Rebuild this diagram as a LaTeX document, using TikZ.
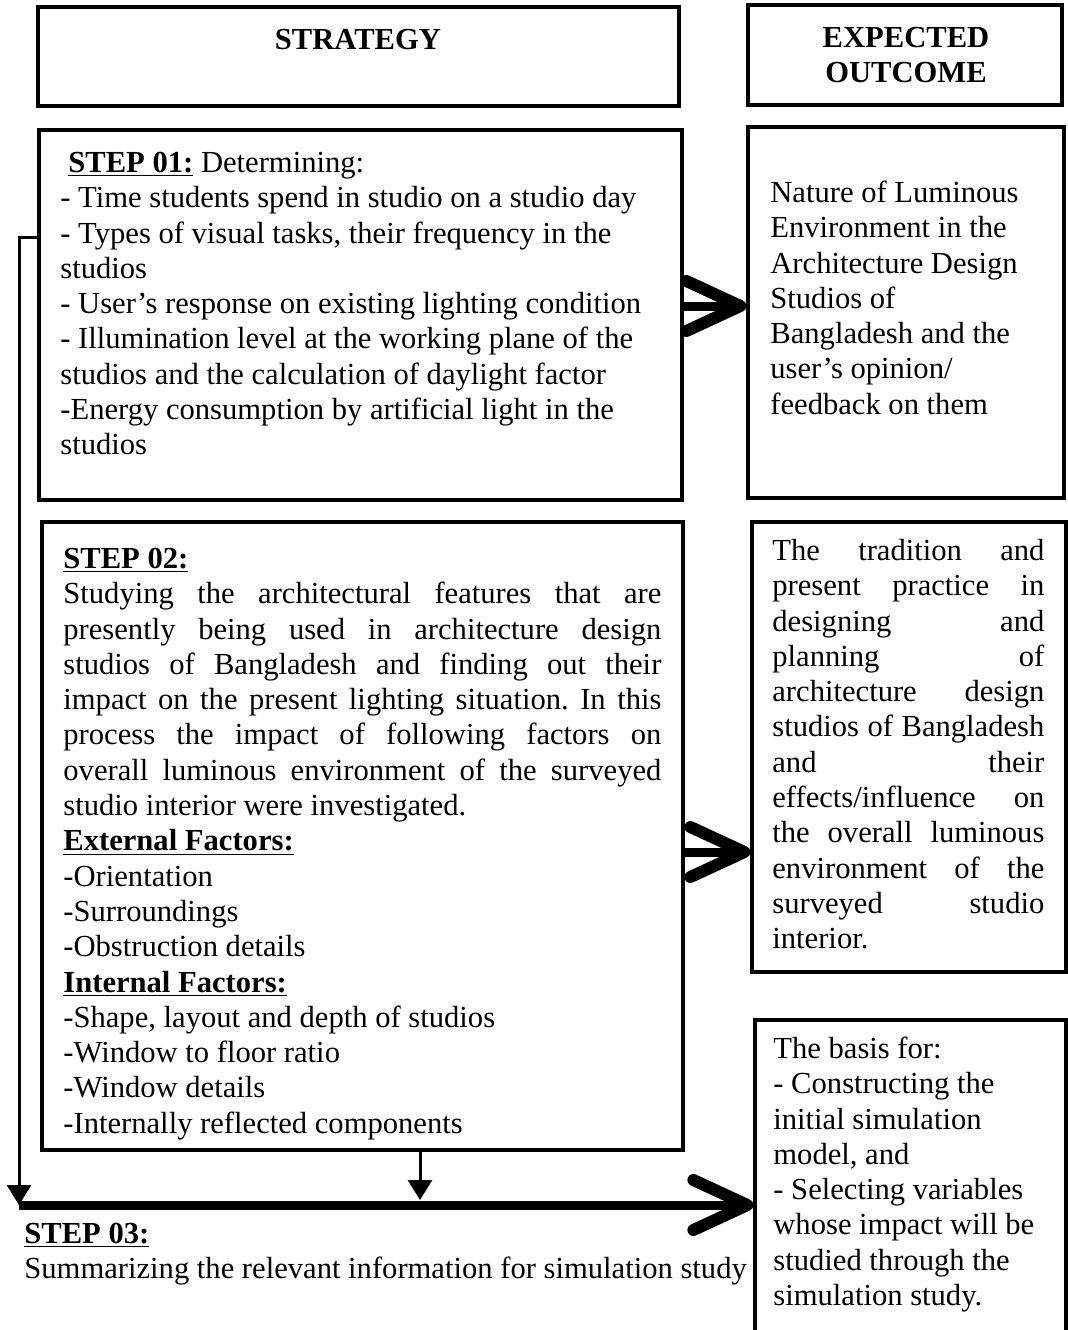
\documentclass[tikz,border=0pt]{standalone}
\usepackage{fontspec}
\setmainfont{Liberation Serif}
\usetikzlibrary{arrows.meta,fit,calc}
\frenchspacing
\newcommand{\JL}[1]{\makebox[299pt][s]{#1}}
\newcommand{\JR}[1]{\makebox[136pt][s]{#1}}
\begin{document}
\begin{tikzpicture}[x=0.5pt,y=-0.5pt,
  box/.style={draw, line width=1.6pt, inner sep=0pt},
  txt/.style={anchor=north west, inner sep=0pt, align=left, font=\fontsize{15.3}{17.65}\selectfont},
  hdr/.style={inner sep=0pt, align=center, font=\fontsize{15.3}{17.65}\selectfont\bfseries},
  thinarr/.style={line width=1.5pt, -{Triangle[length=10pt,width=12pt]}},
  fatarr/.style={line width=4.5pt, -{Straight Barb[length=27pt,width=25pt,line width'=6pt,round]}}
]
\useasboundingbox (0,0) rectangle (1068,1330);

% boxes
\node[box, fit={(38,7) (679,106)}] (hS) {};
\node[box, fit={(748,5) (1062,105)}] (hO) {};
\node[box, fit={(39,130) (682,500)}] (s1box) {};
\node[box, fit={(748,127) (1064,498)}] (o1box) {};
\node[box, fit={(42,522) (683,1150)}] (s2box) {};
\node[box, fit={(752,522) (1066,972)}] (o2box) {};
\node[box, fit={(755,1020) (1066,1345)}] (o3box) {};

% headers
\node[hdr] (hStxt) at (358,40) {STRATEGY};
\node[hdr] (hOtxt) at (906,55) {EXPECTED\\OUTCOME};

% step texts
\node[txt] (s1txt) at (60,147.3) {\strut\hspace*{4pt}\underline{\textbf{STEP 01:}} Determining:\\
- Time students spend in studio on a studio day\\
- Types of visual tasks, their frequency in the\\
studios\\
- User’s response on existing lighting condition\\
- Illumination level at the working plane of the\\
studios and the calculation of daylight factor\\
-Energy consumption by artificial light in the\\
studios};

\node[txt] (s2txt) at (63,543.3) {\strut\underline{\textbf{STEP 02:}}\\
\JL{Studying the architectural features that are}\\
\JL{presently being used in architecture design}\\
\JL{studios of Bangladesh and finding out their}\\
\JL{impact on the present lighting situation. In this}\\
\JL{process the impact of following factors on}\\
\JL{overall luminous environment of the surveyed}\\
studio interior were investigated.\\
\underline{\textbf{External Factors:}}\\
-Orientation\\
-Surroundings\\
-Obstruction details\\
\underline{\textbf{Internal Factors:}}\\
-Shape, layout and depth of studios\\
-Window to floor ratio\\
-Window details\\
-Internally reflected components};

\node[txt] (s3txt) at (24,1218.3) {\strut\underline{\textbf{STEP 03:}}\\
Summarizing the relevant information for simulation study};

% outcome texts
\node[txt] (o1txt) at (770,177.3) {\strut Nature of Luminous\\
Environment in the\\
Architecture Design\\
Studios of\\
Bangladesh and the\\
user’s opinion/\\
feedback on them};

\node[txt] (o2txt) at (772,535.3) {\strut\JR{The tradition and}\\
\JR{present practice in}\\
\JR{designing and}\\
\JR{planning of}\\
\JR{architecture design}\\
\JR{studios of Bangladesh}\\
\JR{and their}\\
\JR{effects/influence on}\\
\JR{the overall luminous}\\
\JR{environment of the}\\
\JR{surveyed studio}\\
interior.};

\node[txt] (o3txt) at (773,1033.3) {\strut The basis for:\\
- Constructing the\\
initial simulation\\
model, and\\
- Selecting variables\\
whose impact will be\\
studied through the\\
simulation study.};

% connectors
\coordinate (a1) at (700,306);
\coordinate (a2) at (700,852);
\coordinate (barL) at (19,1205);
\coordinate (lrow) at (0,237);
\coordinate (dtip) at (420,1200);

\draw[fatarr] (s1box.east |- a1) -- (o1box.west |- a1);
\draw[fatarr] (s2box.east |- a2) -- (o2box.west |- a2);
\draw[thinarr] (s1box.west |- lrow) -| (barL);
\draw[thinarr] (s2box.south -| dtip) -- (dtip);
\draw[fatarr] (barL) -- (o3box.west |- barL);
\end{tikzpicture}
\end{document}
